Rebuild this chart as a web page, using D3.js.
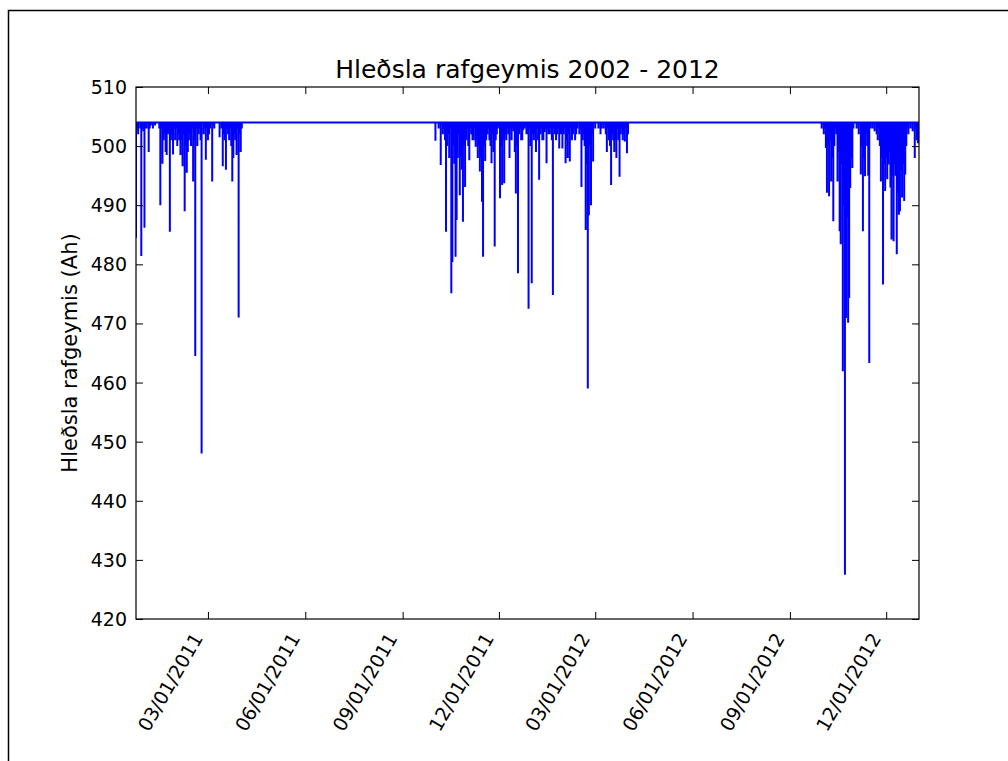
<!DOCTYPE html>
<html>
<head>
<meta charset="utf-8">
<script src="https://cdn.jsdelivr.net/npm/d3@7"></script>
<style>
  html, body { margin: 0; padding: 0; background: #fff; }
  svg { display: block; font-family: 'DejaVu Sans', sans-serif; }
</style>
</head>
<body>
<svg id="main"></svg>
<script>
//--------data----------
// lowest daily charge (Ah), one value per day from the start date of each season;
// the battery sits at full charge between the dips
const fullCharge = 504;
const season1Start = '2010-12-23';
const season1 = [
  484.5, 503, 502, 504, 503, 481.4, 503, 502.5, 486.2, 503,
  503, 504, 499, 503, 503.5, 504, 503, 504, 503.5, 504,
  504, 504, 503, 490, 503, 497, 501, 502, 499, 498.5,
  502, 502, 485.5, 501, 502, 498.6, 503, 501, 503, 500,
  502, 501, 498.5, 501, 496.6, 502, 489, 500, 495.5, 499,
  501, 502, 500, 503, 494, 501, 464.5, 503, 500, 502,
  503, 501, 448, 504, 502, 503, 497.7, 503, 501, 502,
  503, 504, 494, 504, 503, 504, 504, 504, 504, 501.5,
  504, 503, 496.6, 502, 501, 496, 503, 502, 501, 503,
  500, 494, 498, 502, 501, 498.5, 503, 471, 502, 499,
  503
];
const season2Start = '2011-10-01';
const season2 = [
  504, 500.9, 504, 504, 503, 504, 496.8, 504, 502, 503,
  501, 485.5, 500, 502, 498, 503, 475.1, 480.4, 500, 497,
  481.3, 487.5, 498, 502, 491.7, 498.2, 496, 487.2, 500, 493.1,
  501, 503, 500, 497.6, 503, 502, 501, 501, 503, 499.9,
  501, 498, 500, 495.7, 498, 490.6, 481.3, 500, 497.5, 501,
  502, 503, 501, 500, 497.1, 502, 499, 483, 501, 502,
  503, 503.5, 491.2, 500, 493.4, 501, 493.7, 502, 501, 503,
  502, 498, 503, 501, 503, 502.5, 499, 492, 500, 478.5,
  502, 503, 501, 501, 502.7, 503, 503.5, 502, 502, 472.5,
  503, 500, 476.8, 502, 501, 502, 499, 503, 501, 494.3,
  502, 503, 501, 501, 502.4, 503, 497.1, 503, 502, 502,
  503, 501, 474.8, 503, 502, 501, 502, 503, 499.6, 502,
  502, 499.6, 502, 503, 497.1, 501, 498, 502, 497.4, 503,
  501, 502, 503, 501, 502, 503, 504, 502, 503, 493.1,
  501, 502, 500, 485.8, 497, 459, 488.3, 500, 490, 502,
  497.4, 504, 503, 504, 504, 503, 504, 502, 503, 504,
  503, 504, 502, 499, 503, 501, 500, 493.4, 502, 501,
  499, 501, 498, 503, 501, 494.8, 502, 503, 501, 502,
  500.8, 503, 498.8, 502, 504
];
const season3Start = '2012-09-28';
const season3 = [
  504, 504, 504, 503, 504, 502, 503, 499.7, 492.1, 500,
  491.5, 501, 494, 498, 487.3, 500, 503, 502, 494, 499,
  485.6, 483.4, 497, 461.9, 490, 427.5, 470.9, 488, 470.1, 474.3,
  492.9, 498, 496.3, 503, 504, 504, 503, 504, 502, 504,
  495.2, 500, 485.6, 498, 494.9, 502, 500, 495, 463.3, 503,
  504, 503, 504, 502.5, 504, 502, 501, 503, 500, 494,
  498, 476.6, 497, 492.4, 498, 494.4, 496.9, 499, 493, 484.2,
  495, 483.9, 497, 495, 481.7, 492, 488.4, 489, 496, 491.3,
  497, 490.7, 495.2, 500, 503, 502, 504, 503, 504, 502.5,
  504, 498, 503, 501, 500.5, 501
];
const xDomain = ['2010-12-23', '2013-01-01'];
const xTicks = ['2011-03-01', '2011-06-01', '2011-09-01', '2011-12-01',
  '2012-03-01', '2012-06-01', '2012-09-01', '2012-12-01'];
const yTicks = [420, 430, 440, 450, 460, 470, 480, 490, 500, 510];
const title = 'Hleðsla rafgeymis 2002 - 2012';
const yLabel = 'Hleðsla rafgeymis (Ah)';

//--------code----------
const parse = d3.utcParse('%Y-%m-%d');
const fmt = d3.utcFormat('%m/%d/%Y');

// each day: back at full charge, dip down to the day's low, recharge
function seasonPoints(start, values){
  let t0 = parse(start);
  let pts = [];
  values.forEach((v, i) => {
    let t = d3.utcDay.offset(t0, i);
    pts.push({date: t, value: fullCharge});
    pts.push({date: t, value: v});
    pts.push({date: t, value: fullCharge});
  });
  return pts;
}
const points = [].concat(
  seasonPoints(season1Start, season1),
  seasonPoints(season2Start, season2),
  seasonPoints(season3Start, season3)
);

const width = 1008, height = 761;
const plot = {left: 136, right: 919, top: 87, bottom: 619};
const font = "'DejaVu Sans', sans-serif";

const svg = d3.select('#main')
  .attr('width', width)
  .attr('height', height);

// figure frame
svg.append('path')
  .attr('d', `M8.5,${height} V10.5 H${width}`)
  .attr('fill', 'none')
  .attr('stroke', '#000')
  .attr('stroke-width', 1.5);

const sx = d3.scaleUtc().domain(xDomain.map(parse)).range([plot.left, plot.right]);
const sy = d3.scaleLinear().domain([420, 510]).range([plot.bottom, plot.top]);

svg.append('defs').append('clipPath').attr('id', 'clip')
  .append('rect')
  .attr('x', plot.left).attr('y', plot.top)
  .attr('width', plot.right - plot.left).attr('height', plot.bottom - plot.top);

const line = d3.line()
  .x(d => sx(d.date))
  .y(d => sy(d.value));

svg.append('path')
  .datum(points)
  .attr('clip-path', 'url(#clip)')
  .attr('fill', 'none')
  .attr('stroke', '#0000ff')
  .attr('stroke-width', 2)
  .attr('d', line);

const tickLen = 7;

// bottom axis with rotated date labels
const gx = svg.append('g')
  .attr('transform', `translate(0,${plot.bottom})`)
  .call(d3.axisBottom(sx).tickValues(xTicks.map(parse)).tickSize(-tickLen).tickFormat(fmt));
gx.selectAll('text')
  .attr('fill', '#000')
  .attr('text-anchor', 'end')
  .attr('x', null).attr('y', null).attr('dy', null)
  .attr('transform', 'translate(-5,19) rotate(-60)');

// top axis, ticks only
svg.append('g')
  .attr('transform', `translate(0,${plot.top})`)
  .call(d3.axisTop(sx).tickValues(xTicks.map(parse)).tickSize(-tickLen).tickFormat(''));

// left axis
const gy = svg.append('g')
  .attr('transform', `translate(${plot.left},0)`)
  .call(d3.axisLeft(sy).tickValues(yTicks).tickSize(-tickLen).tickPadding(9).tickFormat(d3.format('d')));
gy.selectAll('text')
  .attr('fill', '#000')
  .attr('dy', '0.34em');

// right axis, ticks only
svg.append('g')
  .attr('transform', `translate(${plot.right},0)`)
  .call(d3.axisRight(sy).tickValues(yTicks).tickSize(-tickLen).tickFormat(''));

[gx, gy].forEach(g => g.attr('font-family', font).attr('font-size', 19));
svg.selectAll('.domain').remove();
svg.selectAll('.tick line').attr('stroke', '#000').attr('stroke-width', 1);

// axes frame
svg.append('rect')
  .attr('x', plot.left).attr('y', plot.top)
  .attr('width', plot.right - plot.left).attr('height', plot.bottom - plot.top)
  .attr('fill', 'none')
  .attr('stroke', '#000')
  .attr('stroke-width', 1.2);

// title and axis label
svg.append('text')
  .attr('x', (plot.left + plot.right) / 2)
  .attr('y', 78)
  .attr('text-anchor', 'middle')
  .attr('font-family', font)
  .attr('font-size', 25)
  .attr('fill', '#000')
  .text(title);

svg.append('text')
  .attr('transform', `translate(77,${(plot.top + plot.bottom) / 2}) rotate(-90)`)
  .attr('text-anchor', 'middle')
  .attr('font-family', font)
  .attr('font-size', 21)
  .attr('fill', '#000')
  .text(yLabel);
</script>
</body>
</html>
